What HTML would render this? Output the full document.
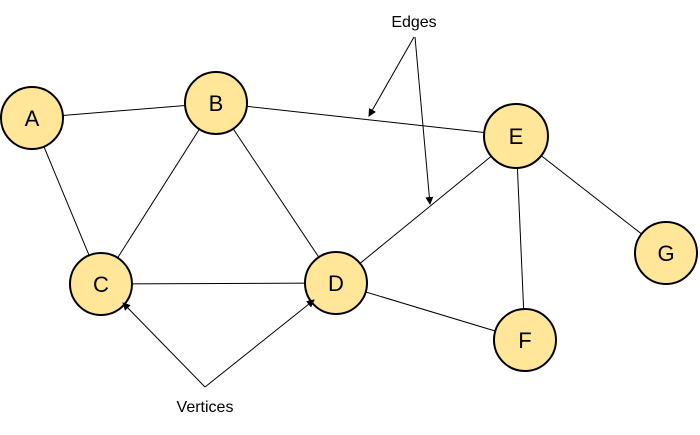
<!DOCTYPE html>
<html><head><style>body{margin:0;background:#fff}</style></head><body>
<svg width="700" height="430" xmlns="http://www.w3.org/2000/svg" font-family="Liberation Sans, sans-serif">
<defs><marker id="ah" markerWidth="8" markerHeight="8" refX="7" refY="4" orient="auto" markerUnits="userSpaceOnUse"><path d="M0,0 L8,4 L0,8 z" fill="#000"/></marker></defs>
<g stroke="#000" stroke-width="1">
<line x1="32" y1="118" x2="216" y2="103"/>
<line x1="32" y1="118" x2="101" y2="284"/>
<line x1="216" y1="103" x2="101" y2="284"/>
<line x1="216" y1="103" x2="336" y2="283"/>
<line x1="216" y1="103" x2="516" y2="136"/>
<line x1="101" y1="284" x2="336" y2="283"/>
<line x1="336" y1="283" x2="516" y2="136"/>
<line x1="336" y1="283" x2="525" y2="340"/>
<line x1="516" y1="136" x2="525" y2="340"/>
<line x1="516" y1="136" x2="666" y2="253"/>
<line x1="414" y1="37" x2="369" y2="116" marker-end="url(#ah)"/>
<line x1="415" y1="37" x2="430" y2="204" marker-end="url(#ah)"/>
</g>
<g fill="#FFE699" stroke="#000" stroke-width="2">
<circle cx="32" cy="118" r="31"/>
<circle cx="216" cy="103" r="31"/>
<circle cx="101" cy="284" r="31"/>
<circle cx="336" cy="283" r="31"/>
<circle cx="516" cy="136" r="32"/>
<circle cx="525" cy="340" r="31"/>
<circle cx="666" cy="253" r="31"/>
</g>
<g stroke="#000" stroke-width="1">
<line x1="205" y1="387" x2="123" y2="303" marker-end="url(#ah)"/>
<line x1="205" y1="387" x2="314" y2="300" marker-end="url(#ah)"/>
</g>
<g font-size="22" text-anchor="middle" fill="#000">
<text x="32" y="126">A</text>
<text x="216" y="111">B</text>
<text x="101" y="292">C</text>
<text x="336" y="291">D</text>
<text x="516" y="144">E</text>
<text x="525" y="348">F</text>
<text x="666" y="261">G</text>
</g>
<g font-size="16" text-anchor="middle">
<text x="414" y="27">Edges</text>
<text x="205" y="412">Vertices</text>
</g>
</svg>
</body></html>
